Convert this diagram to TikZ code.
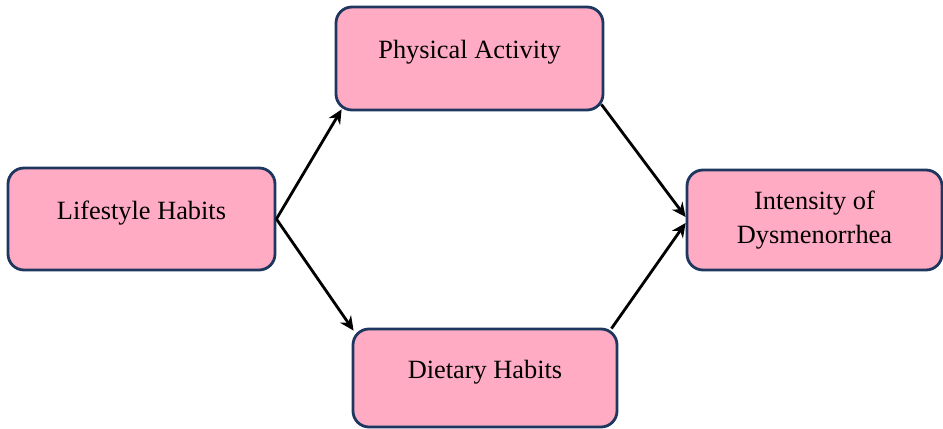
\documentclass[tikz,border=0pt]{standalone}
\usepackage{fontspec}
\setmainfont{Liberation Serif}
\usetikzlibrary{arrows.meta,calc,positioning}
\definecolor{boxpink}{RGB}{255,171,196}
\definecolor{boxnavy}{RGB}{30,55,95}

\begin{document}
\begin{tikzpicture}[>={Stealth[length=8pt,width=7.5pt]},
  habit/.style={draw=boxnavy,line width=1.6pt,fill=boxpink,rounded corners=0.32cm,
    align=center,font=\fontsize{15}{19}\selectfont},
  oneline/.style={text depth=10pt},
  link/.style={->,line width=1.6pt}]
\useasboundingbox (0,0) rectangle (18.86,8.58);
% the four boxes
\node[habit,oneline,minimum width=5.34cm,minimum height=2.04cm] (life) at (2.83,4.2) {Lifestyle Habits};
\node[habit,oneline,minimum width=5.34cm,minimum height=2.06cm] (phys) at (9.39,7.41) {Physical Activity};
\node[habit,oneline,minimum width=5.28cm,minimum height=1.96cm] (diet) at (9.7,1.02) {Dietary Habits};
\node[habit,minimum width=5.1cm,minimum height=2.0cm] (dysm) at (16.29,4.18) {Intensity of\\Dysmenorrhea};
% connectors
\draw[link] (life.east) -- ($(phys.south west)+(0.14,0.04)$);
\draw[link] (life.east) -- ($(diet.north west)+(0.04,-0.06)$);
\draw[link] ($(phys.south east)+(-0.06,0.14)$) -- ($(dysm.west)+(0,0.06)$);
\draw[link] ($(diet.north east)+(-0.14,-0.02)$) -- ($(dysm.west)+(0,-0.06)$);
\end{tikzpicture}
\end{document}
